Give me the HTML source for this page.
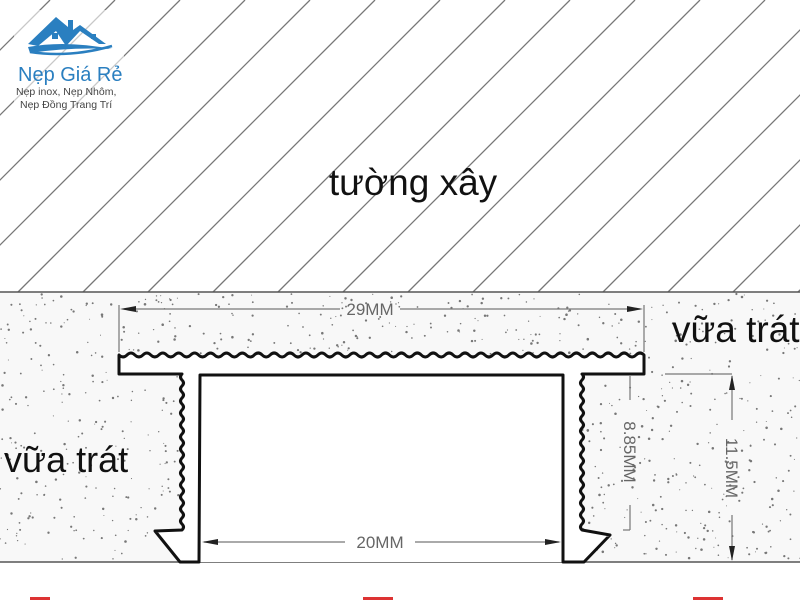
<!DOCTYPE html>
<html><head><meta charset="utf-8"><style>
html,body{margin:0;padding:0;background:#fff;}
svg{display:block;}
</style></head><body>
<svg id="s" width="800" height="600" viewBox="0 0 800 600" xmlns="http://www.w3.org/2000/svg" font-family="Liberation Sans, sans-serif">
<rect width="800" height="600" fill="#fff"/>
<rect x="0" y="292" width="800" height="270" fill="#f8f8f8"/>
<g id="hatch" stroke="#777" stroke-width="1.3"></g>
<g id="dots" fill="#777"></g>
<line x1="0" y1="292" x2="800" y2="292" stroke="#555" stroke-width="1.5"/>
<line x1="0" y1="562" x2="800" y2="562" stroke="#555" stroke-width="1.5"/>
<rect x="0" y="563" width="800" height="37" fill="#fff"/>
<rect x="200" y="375" width="363" height="187" fill="#fff"/>
<path id="prof" fill="#fff" stroke="#111" stroke-width="3" stroke-linejoin="round"/>
<g stroke="#777" stroke-width="1.2" fill="none">
<line x1="124" y1="309" x2="340" y2="309"/><line x1="400" y1="309" x2="640" y2="309"/>
<line x1="119" y1="305" x2="119" y2="352"/><line x1="644" y1="305" x2="644" y2="352"/>
<line x1="204" y1="542" x2="345" y2="542"/><line x1="415" y1="542" x2="559" y2="542"/>
<line x1="630" y1="376" x2="630" y2="400"/><line x1="630" y1="505" x2="630" y2="530"/><line x1="623" y1="530" x2="630" y2="530"/>
<line x1="665" y1="374" x2="732" y2="374"/>
<line x1="732" y1="376" x2="732" y2="420"/><line x1="732" y1="515" x2="732" y2="560"/>
</g>
<g fill="#222">
<polygon points="120,309 136,306 136,312"/><polygon points="643,309 627,306 627,312"/>
<polygon points="202,542 218,539 218,545"/><polygon points="561,542 545,539 545,545"/>
<polygon points="732,375 729,390 735,390"/><polygon points="732,561 729,546 735,546"/>
</g>
<g fill="#666" font-size="17">
<text x="370" y="315" text-anchor="middle">29MM</text>
<text x="380" y="548" text-anchor="middle">20MM</text>
<text transform="translate(624,452) rotate(90)" text-anchor="middle">8.85MM</text>
<text transform="translate(726,468) rotate(90)" text-anchor="middle">11.5MM</text>
</g>
<g fill="#111">
<text x="413" y="195" text-anchor="middle" font-size="37">tường xây</text>
<text x="672" y="342" font-size="37">vữa trát</text>
<text x="4" y="472" font-size="36">vữa trát</text>
</g>
<g fill="#d33"><rect x="30" y="597" width="20" height="3"/><rect x="363" y="597" width="30" height="3"/><rect x="693" y="597" width="30" height="3"/></g>
<g>
<rect x="14" y="10" width="110" height="100" fill="#fff" opacity="0.6"/>
<path d="M28 44 L56 17 L68 27 L68 20 L73 20 L73 30 L80 25 L106 44 L99 44 L80 31 L66 46 L56 31 L38 46 Z" fill="#2a7fc0"/>
<rect x="52" y="33" width="6" height="6" fill="#2a7fc0"/><rect x="91" y="34" width="5" height="5" fill="#2a7fc0"/>
<path d="M28 47 Q65 40 112 49 Q70 47 30 53 Z" fill="#2a7fc0"/>
<path d="M30 52 Q70 58 112 46" stroke="#2a7fc0" stroke-width="2.5" fill="none"/>
<text x="18" y="81" font-size="20" fill="#2a7fc0">Nẹp Giá Rẻ</text>
<text x="16" y="95" font-size="10.5" fill="#444">Nẹp inox, Nẹp Nhôm,</text>
<text x="20" y="108" font-size="10.5" fill="#444">Nẹp Đồng Trang Trí</text>
</g>
</svg>
<script>
(function(){
var ns="http://www.w3.org/2000/svg";
var h=document.getElementById('hatch');
for(var k=-5;k<14;k++){var x=18+65*k;var l=document.createElementNS(ns,'line');
l.setAttribute('x1',x);l.setAttribute('y1',292);l.setAttribute('x2',x+292);l.setAttribute('y2',0);h.appendChild(l);}
var d=document.getElementById('dots');var seed=7;function r(){seed=(seed*16807)%2147483647;return seed/2147483647;}
for(var i=0;i<1100;i++){var x=r()*800,y=294+r()*266;if(x>200&&x<563&&y>375)continue;
var c=document.createElementNS(ns,'circle');c.setAttribute('cx',x.toFixed(1));c.setAttribute('cy',y.toFixed(1));c.setAttribute('r',(0.5+r()*0.8).toFixed(2));d.appendChild(c);}
function wavH(x1,x2,y,p,a){var s='';var n=Math.round(Math.abs(x2-x1)/p);for(var i=1;i<=n;i++){var xa=x1+(x2-x1)*(i-0.5)/n,xb=x1+(x2-x1)*i/n;s+=' Q'+xa.toFixed(1)+' '+(y+(i%2?-a:a))+' '+xb.toFixed(1)+' '+y;}return s;}
function wavV(x,y1,y2,p,a){var s='';var n=Math.round(Math.abs(y2-y1)/p);for(var i=1;i<=n;i++){var ya=y1+(y2-y1)*(i-0.5)/n,yb=y1+(y2-y1)*i/n;s+=' Q'+(x+(i%2?-a:a))+' '+ya.toFixed(1)+' '+x+' '+yb.toFixed(1);}return s;}
var p='M119 355 L119 374 L182 374'+wavV(182,374,530,6,3)+' L155 531 L180 562 L199 562 L200 375 L563 375 L563 562 L584 562 L610 535 L582 530'+wavV(582,530,374,6,3)+' L644 374 L644 355'+wavH(644,119,355,8,4)+' Z';
document.getElementById('prof').setAttribute('d',p);
})();
</script>
</body></html>
